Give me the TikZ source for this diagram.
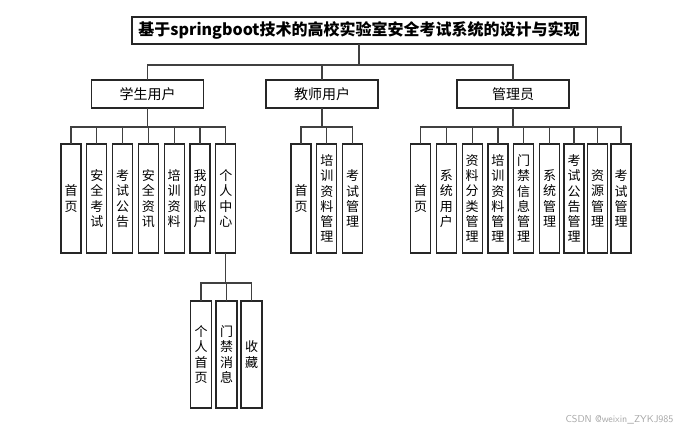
\documentclass[tikz,border=0pt]{standalone}
\usepackage{fontspec}
\setmainfont{Noto Sans CJK SC}
\usetikzlibrary{positioning}

\tikzset{
  box/.style={draw=black!85, line width=1.2pt, fill=white, inner sep=1pt, outer sep=0pt},
  titlebox/.style={box, minimum width=454pt, minimum height=27pt, font=\fontsize{16}{18}\selectfont\bfseries},
  rolebox/.style={box, minimum width=112pt, minimum height=28pt, font=\fontsize{14}{16}\selectfont},
  leaf/.style={box, text width=14pt, inner xsep=3pt, minimum width=20pt, minimum height=109pt, align=center, font=\fontsize{13}{15.3}\selectfont},
  link/.style={draw=black!75, line width=1.2pt},
}

\begin{document}
\begin{tikzpicture}[x=1pt, y=-1pt, node distance=5.8pt]
  \useasboundingbox (0,0) rectangle (688,432);
  % top
  \node[titlebox] (title) at (359,30.5) {基于springboot技术的高校实验室安全考试系统的设计与实现};
  \node[rolebox] (stu) at (147.5,94) {学生用户};
  \node[rolebox] (tea) at (322,94) {教师用户};
  \node[rolebox] (adm) at (513,94) {管理员};
  % student
  \node[leaf, anchor=north] (s1) at (71,144) {首\\页};
  \node[leaf] (s2) [right=of s1] {安\\全\\考\\试};
  \node[leaf] (s3) [right=of s2] {考\\试\\公\\告};
  \node[leaf] (s4) [right=of s3] {安\\全\\资\\讯};
  \node[leaf] (s5) [right=of s4] {培\\训\\资\\料};
  \node[leaf] (s6) [right=of s5] {我\\的\\账\\户};
  \node[leaf] (s7) [right=of s6] {个\\人\\中\\心};
  % personal centre
  \node[leaf, anchor=north, text width=15pt, minimum width=21pt, minimum height=107pt] (p1) at (201,301) {个\\人\\首\\页};
  \node[leaf, text width=15pt, minimum width=21pt, minimum height=107pt] (p2) [right=4.5pt of p1] {门\\禁\\消\\息};
  \node[leaf, text width=15pt, minimum width=21pt, minimum height=107pt] (p3) [right=4pt of p2] {收\\藏};
  % teacher
  \node[leaf, anchor=north] (t1) at (301,144) {首\\页};
  \node[leaf] (t2) [right=of t1] {培\\训\\资\\料\\管\\理};
  \node[leaf] (t3) [right=of t2] {考\\试\\管\\理};
  % admin
  \node[leaf, anchor=north] (a1) at (420.5,144) {首\\页};
  \node[leaf] (a2) [right=of a1] {系\\统\\用\\户};
  \node[leaf] (a3) [right=of a2] {资\\料\\分\\类\\管\\理};
  \node[leaf] (a4) [right=of a3] {培\\训\\资\\料\\管\\理};
  \node[leaf] (a5) [right=of a4] {门\\禁\\信\\息\\管\\理};
  \node[leaf] (a6) [right=of a5] {系\\统\\管\\理};
  \node[leaf] (a7) [right=4.5pt of a6] {考\\试\\公\\告\\管\\理};
  \node[leaf] (a8) [right=3.5pt of a7] {资\\源\\管\\理};
  \node[leaf] (a9) [right=3.5pt of a8] {考\\试\\管\\理};
  % connectors
  \path[link]
    (title.south) -- ++(0,21) -| (stu.north)
    (title.south) -- ++(0,21) -| (tea.north)
    (title.south) -- ++(0,21) -| (adm.north);
  \path[link]
    (stu.south) -- ++(0,19) -| (s1.north)
    (stu.south) -- ++(0,19) -| (s2.north)
    (stu.south) -- ++(0,19) -| (s3.north)
    (stu.south) -- ++(0,19) -| (s4.north)
    (stu.south) -- ++(0,19) -| (s5.north)
    (stu.south) -- ++(0,19) -| (s6.north)
    (stu.south) -- ++(0,19) -| (s7.north);
  \path[link]
    (s7.south) -- ++(0,30) -| (p1.north)
    (s7.south) -- ++(0,30) -| (p2.north)
    (s7.south) -- ++(0,30) -| (p3.north);
  \path[link]
    (tea.south) -- ++(0,19) -| (t1.north)
    (tea.south) -- ++(0,19) -| (t2.north)
    (tea.south) -- ++(0,19) -| (t3.north);
  \path[link]
    (adm.south) -- ++(0,19) -| (a1.north)
    (adm.south) -- ++(0,19) -| (a2.north)
    (adm.south) -- ++(0,19) -| (a3.north)
    (adm.south) -- ++(0,19) -| (a4.north)
    (adm.south) -- ++(0,19) -| (a5.north)
    (adm.south) -- ++(0,19) -| (a6.north)
    (adm.south) -- ++(0,19) -| (a7.north)
    (adm.south) -- ++(0,19) -| (a8.north)
    (adm.south) -- ++(0,19) -| (a9.north);
  % watermark
  \node[text=black!35, font=\fontsize{10}{12}\selectfont\sffamily, anchor=east] (mark) at (677,420) {CSDN @weixin\_ZYKJ985};
\end{tikzpicture}
\end{document}
